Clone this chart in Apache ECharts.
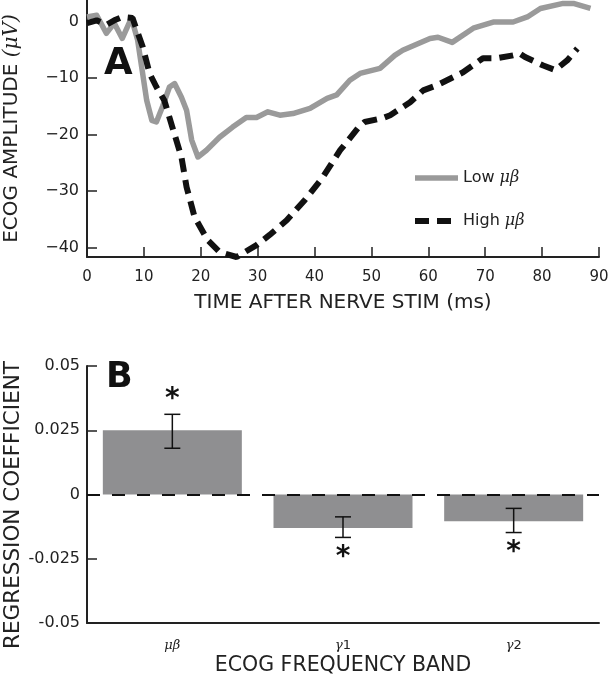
<!DOCTYPE html>
<html>
<head>
<meta charset="utf-8">
<script src="https://cdn.jsdelivr.net/npm/echarts@6/dist/echarts.min.js"></script>
<style>
html,body{margin:0;padding:0;background:#fff;}
#chart{width:610px;height:681px;}
</style>
</head>
<body>
<div id="chart"></div>
<script>
// Panel A data
var timeLow = [0, 1.7, 3.4, 4.8, 6.2, 7.8, 8.9, 9.6, 10.5, 11.4, 12.2, 13.3, 14.5, 15.4, 16.6, 17.5, 18.4, 19.5, 21, 23.3, 25.6, 28, 29.8, 31.8, 33.9, 36.2, 39.2, 42.2, 43.9, 46.2, 48, 51.5, 54.1, 55.5, 60.3, 61.7, 64.2, 67.9, 71.4, 74.9, 77.4, 79.7, 83.7, 85.5, 88.5];
var ampLow = [0.8, 1.1, -2.1, -0.3, -3, 0.6, -3.3, -8, -14, -17.5, -17.8, -15, -11.6, -11, -13.4, -15.7, -21, -24, -22.8, -20.5, -18.7, -17, -17, -16, -16.6, -16.3, -15.4, -13.6, -13, -10.4, -9.2, -8.3, -6, -5.1, -3, -2.8, -3.7, -1.2, -0.1, -0.1, 0.8, 2.3, 3.2, 3.2, 2.3];
var timeHigh = [0, 1.7, 3.4, 4.8, 6.2, 8, 9.8, 11, 12.2, 13.6, 15, 16.6, 17.5, 18.9, 21.2, 23.3, 26.3, 29.8, 32.1, 35.1, 38.3, 41.3, 44.5, 47.6, 48.8, 52, 53.3, 56.8, 59.1, 61.5, 66.1, 69.6, 72.1, 74.9, 76.1, 77, 80.2, 82.3, 84.4, 86.2];
var ampHigh = [-0.3, 0.2, -0.6, 0.2, 0.8, 0.6, -4.5, -9.2, -11.6, -14, -18.7, -24, -29.3, -34.6, -38.7, -40.8, -41.7, -39.6, -37.8, -35.2, -31.6, -27.8, -22.8, -18.9, -17.8, -17.1, -16.6, -14.3, -12.2, -11.3, -9, -6.5, -6.5, -6, -5.7, -6.3, -7.8, -8.6, -6.9, -4.8];
var ampTicks = [-40, -30, -20, -10, 0];
var seriesNames = ['Low μβ', 'High μβ'];

// Panel B data
var bands = ['μβ', 'γ1', 'γ2'];
var coef = [0.025, -0.013, -0.0104];
var errLow = [0.018, -0.0167, -0.0148];
var errHigh = [0.0312, -0.0087, -0.0054];
var significant = [true, true, true];

var textColor = '#222';
var font = 'DejaVu Sans';

var chart = echarts.init(document.getElementById('chart'));

function pairs(xs, ys) { return xs.map(function (x, i) { return [x, ys[i]]; }); }

var option = {
  animation: false,
  backgroundColor: '#fff',
  textStyle: { fontFamily: font, color: textColor },
  grid: [
    { left: 87, right: 11, top: 0, height: 257, outerBoundsMode: 'none', containLabel: false },
    { left: 87, right: 11, top: 366, height: 257, outerBoundsMode: 'none', containLabel: false }
  ],
  legend: {
    data: seriesNames,
    orient: 'vertical',
    left: 407,
    top: 165,
    itemWidth: 43,
    itemHeight: 14,
    itemGap: 27,
    itemStyle: { opacity: 0 },
    lineStyle: { width: 'inherit' },
    textStyle: {
      fontFamily: font, fontSize: 16, color: textColor,
      rich: { m: { fontFamily: 'DejaVu Serif', fontStyle: 'italic', fontSize: 16, color: textColor } }
    },
    formatter: function (name) {
      var parts = name.split(' ');
      return parts[0] + ' {m|' + parts[1] + '}';
    }
  },
  xAxis: [
    {
      gridIndex: 0, type: 'value', min: 0, max: 90, interval: 10,
      name: 'TIME AFTER NERVE STIM (ms)', nameLocation: 'middle', nameGap: 36, nameMoveOverlap: false,
      nameTextStyle: { fontFamily: font, fontSize: 20, color: textColor },
      axisLine: { onZero: false, lineStyle: { color: '#222', width: 2 } },
      axisTick: { inside: true, length: 10, lineStyle: { color: '#222', width: 1.5 } },
      axisLabel: { margin: 13, fontFamily: font, fontSize: 15, color: textColor },
      splitLine: { show: false }
    },
    {
      gridIndex: 1, type: 'category', data: bands, boundaryGap: true,
      name: 'ECOG FREQUENCY BAND', nameLocation: 'middle', nameGap: 32, nameMoveOverlap: false,
      nameTextStyle: { fontFamily: font, fontSize: 20.5, color: textColor },
      axisLine: { onZero: false, lineStyle: { color: '#222', width: 2 } },
      axisTick: { inside: true, length: 10, alignWithLabel: true, lineStyle: { color: '#222', width: 1.5 } },
      axisLabel: {
        margin: 16, fontSize: 13, color: textColor,
        formatter: function (v) {
          if (v.charAt(0) === 'γ') return '{m|γ}{n|' + v.slice(1) + '}';
          return '{m|' + v + '}';
        },
        rich: {
          m: { fontFamily: 'DejaVu Serif', fontStyle: 'italic', fontSize: 13, color: textColor },
          n: { fontFamily: font, fontSize: 13, color: textColor }
        }
      },
      splitLine: { show: false }
    }
  ],
  yAxis: [
    {
      gridIndex: 0, type: 'value', min: -41.7, max: 3.8,
      name: 'ECOG AMPLITUDE {m|(μV)}', nameLocation: 'middle', nameRotate: 90, nameGap: 65, nameMoveOverlap: false,
      nameTextStyle: {
        fontFamily: font, fontSize: 20, color: textColor,
        rich: { m: { fontFamily: 'DejaVu Serif', fontStyle: 'italic', fontSize: 20, color: textColor } }
      },
      axisLine: { show: true, onZero: false, lineStyle: { color: '#222', width: 2 } },
      axisTick: { show: true, inside: true, length: 10, customValues: ampTicks, lineStyle: { color: '#222', width: 1.5 } },
      axisLabel: {
        margin: 8, fontFamily: font, fontSize: 16, color: textColor, customValues: ampTicks,
        formatter: function (v) { return String(v).replace('-', '\u2212'); }
      },
      splitLine: { show: false }
    },
    {
      gridIndex: 1, type: 'value', min: -0.05, max: 0.05, interval: 0.025,
      name: 'REGRESSION COEFFICIENT', nameLocation: 'middle', nameRotate: 90, nameGap: 63, nameMoveOverlap: false,
      nameTextStyle: { fontFamily: font, fontSize: 21.5, color: textColor, padding: [0, 21, 0, 0] },
      axisLine: { show: true, onZero: false, lineStyle: { color: '#222', width: 2 } },
      axisTick: { show: true, inside: true, length: 10, lineStyle: { color: '#222', width: 1.5 } },
      axisLabel: {
        margin: 7, fontFamily: font, fontSize: 16, color: textColor,
        formatter: function (v) { return String(Math.round(v * 1000) / 1000); }
      },
      splitLine: { show: false }
    }
  ],
  series: [
    {
      name: seriesNames[0], type: 'line', xAxisIndex: 0, yAxisIndex: 0,
      data: pairs(timeLow, ampLow), symbol: 'none', z: 2,
      lineStyle: { color: '#9a9a9a', width: 5.5, join: 'round' },
      itemStyle: { color: '#9a9a9a' }
    },
    {
      name: seriesNames[1], type: 'line', xAxisIndex: 0, yAxisIndex: 0,
      data: pairs(timeHigh, ampHigh), symbol: 'none', z: 3,
      lineStyle: { color: '#111', width: 6, type: [14, 8] },
      itemStyle: { color: '#111' }
    },
    {
      type: 'bar', xAxisIndex: 1, yAxisIndex: 1, data: coef, barWidth: 139,
      itemStyle: { color: '#8f8f91' },
      markLine: {
        silent: true, symbol: 'none', label: { show: false },
        lineStyle: { color: '#111', width: 2, type: [13, 12] },
        data: [{ yAxis: 0 }]
      }
    },
    {
      type: 'custom', xAxisIndex: 1, yAxisIndex: 1, z: 5,
      data: bands.map(function (b, i) { return [i, errLow[i], errHigh[i], coef[i], significant[i] ? 1 : 0]; }),
      renderItem: function (params, api) {
        var x = api.coord([api.value(0), 0])[0];
        var lo = api.coord([api.value(0), api.value(1)])[1];
        var hi = api.coord([api.value(0), api.value(2)])[1];
        var c = 8;
        var st = { stroke: '#111', lineWidth: 1.5 };
        var kids = [
          { type: 'line', shape: { x1: x, y1: lo, x2: x, y2: hi }, style: st },
          { type: 'line', shape: { x1: x - c, y1: lo, x2: x + c, y2: lo }, style: st },
          { type: 'line', shape: { x1: x - c, y1: hi, x2: x + c, y2: hi }, style: st }
        ];
        if (api.value(4)) {
          var pos = api.value(3) >= 0;
          kids.push({
            type: 'text',
            style: {
              text: '*', x: x, y: pos ? hi - 15 : lo + 20,
              align: 'center', verticalAlign: 'middle',
              fontFamily: font, fontWeight: 'bold', fontSize: 28, fill: '#111'
            }
          });
        }
        return { type: 'group', children: kids };
      }
    }
  ],
  graphic: [
    { type: 'text', left: 104, top: 46, style: { text: 'A', fontFamily: font, fontWeight: 'bold', fontSize: 37, fill: '#111' } },
    { type: 'text', left: 106, top: 360, style: { text: 'B', fontFamily: font, fontWeight: 'bold', fontSize: 35, fill: '#111' } }
  ]
};
chart.setOption(option);
</script>
</body>
</html>
